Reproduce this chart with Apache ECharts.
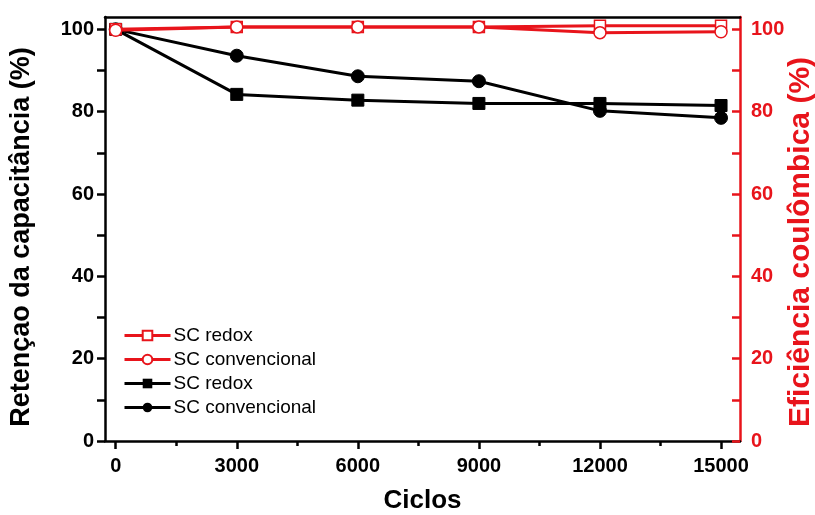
<!DOCTYPE html>
<html>
<head>
<meta charset="utf-8">
<script src="https://cdn.jsdelivr.net/npm/echarts@6/dist/echarts.min.js"></script>
<style>
  html, body { margin: 0; padding: 0; background: #fff; }
  #chart { width: 815px; height: 515px; }
</style>
</head>
<body>
<div id="chart"></div>
<script>
// Cycling stability: capacitance retention (left) and coulombic efficiency (right)
const cycles = [0, 3000, 6000, 9000, 12000, 15000];
const retRedox = [100, 84.2, 82.8, 82.0, 82.0, 81.5];
const retConv = [100, 93.6, 88.6, 87.4, 80.2, 78.5];
const effRedox = [100, 100.6, 100.6, 100.6, 100.9, 100.9];
const effConv = [99.8, 100.6, 100.6, 100.6, 99.2, 99.4];

const xMajor = [0, 3000, 6000, 9000, 12000, 15000];
const xMinor = [1500, 4500, 7500, 10500, 13500];
const yTicks = [0, 10, 20, 30, 40, 50, 60, 70, 80, 90, 100];
const yLabels = [0, 20, 40, 60, 80, 100];

const RED = '#e8141b';
const BLACK = '#000000';
const FONT = '"Liberation Sans", Arial, sans-serif';

const pairs = (xs, ys) => xs.map((x, i) => [x, ys[i]]);
const plain = v => String(v);

const chart = echarts.init(document.getElementById('chart'));
chart.setOption({
  animation: false,
  backgroundColor: '#fff',
  grid: { left: 105, right: 75, top: 17, bottom: 74, outerBoundsMode: 'none', containLabel: false },
  legend: {
    left: 118, top: 321, orient: 'vertical',
    itemWidth: 46, itemHeight: 12, itemGap: 5,
    lineStyle: { width: 3 },
    textStyle: { fontFamily: FONT, fontSize: 19, color: '#000', padding: [0, 0, 0, -2] },
    data: ['SC redox ', 'SC convencional ', 'SC redox', 'SC convencional']
  },
  xAxis: [
    {
      type: 'value', min: -265, max: 15470, position: 'bottom',
      name: 'Ciclos', nameLocation: 'middle', nameGap: 47,
      nameTextStyle: { fontFamily: FONT, fontSize: 26, fontWeight: 'bold', color: '#000' },
      splitLine: { show: false },
      axisLine: { onZero: false, lineStyle: { color: BLACK, width: 2.5 } },
      axisTick: { customValues: xMajor, length: 8, lineStyle: { color: BLACK, width: 2.5 } },
      axisLabel: { customValues: xMajor, formatter: plain, margin: 15, fontFamily: FONT, fontSize: 20, fontWeight: 'bold', color: '#000' }
    },
    {
      type: 'value', min: -265, max: 15470, position: 'bottom',
      splitLine: { show: false },
      axisLine: { show: false, onZero: false },
      axisTick: { customValues: xMinor, length: 5, lineStyle: { color: BLACK, width: 2.5 } },
      axisLabel: { show: false }
    },
    {
      type: 'value', min: -265, max: 15470, position: 'top',
      splitLine: { show: false },
      axisLine: { onZero: false, lineStyle: { color: BLACK, width: 2.5 } },
      axisTick: { show: false },
      axisLabel: { show: false }
    }
  ],
  yAxis: [
    {
      type: 'value', min: 0, max: 103, position: 'left',
      name: 'Retençao da capacitância (%)', nameLocation: 'middle', nameGap: 70, nameRotate: 90,
      nameMoveOverlap: false,
      nameTextStyle: { fontFamily: FONT, fontSize: 27, fontWeight: 'bold', color: '#000', padding: [0, 16, 0, 0] },
      splitLine: { show: false },
      axisLine: { onZero: false, lineStyle: { color: BLACK, width: 2.5 } },
      axisTick: { customValues: yTicks, length: 8, lineStyle: { color: BLACK, width: 2.5 } },
      axisLabel: { customValues: yLabels, formatter: plain, margin: 11, fontFamily: FONT, fontSize: 20, fontWeight: 'bold', color: '#000' }
    },
    {
      type: 'value', min: 0, max: 103, position: 'right',
      name: 'Eficiência coulômbica (%)', nameLocation: 'middle', nameGap: 46, nameRotate: 90,
      nameMoveOverlap: false,
      nameTextStyle: { fontFamily: FONT, fontSize: 30, fontWeight: 'bold', color: RED, padding: [0, 26, 0, 0] },
      splitLine: { show: false },
      axisLine: { onZero: false, lineStyle: { color: RED, width: 2.5 } },
      axisTick: { customValues: yTicks, length: 8, inside: true, lineStyle: { color: RED, width: 2.5 } },
      axisLabel: { customValues: yLabels, formatter: plain, margin: 11, fontFamily: FONT, fontSize: 20, fontWeight: 'bold', color: RED }
    }
  ],
  series: [
    {
      name: 'SC redox', type: 'line', yAxisIndex: 0, z: 2,
      data: pairs(cycles, retRedox),
      symbol: 'rect', symbolSize: 12,
      lineStyle: { color: BLACK, width: 3 },
      itemStyle: { color: BLACK, borderColor: BLACK }
    },
    {
      name: 'SC convencional', type: 'line', yAxisIndex: 0, z: 2,
      data: pairs(cycles, retConv),
      symbol: 'circle', symbolSize: 13,
      lineStyle: { color: BLACK, width: 3 },
      itemStyle: { color: BLACK, borderColor: BLACK }
    },
    {
      name: 'SC redox ', type: 'line', yAxisIndex: 1, z: 3,
      data: pairs(cycles, effRedox),
      symbol: 'rect', symbolSize: 11,
      lineStyle: { color: RED, width: 3 },
      itemStyle: { color: '#fff', borderColor: RED, borderWidth: 1.5 }
    },
    {
      name: 'SC convencional ', type: 'line', yAxisIndex: 1, z: 4,
      data: pairs(cycles, effConv),
      symbol: 'circle', symbolSize: 12,
      lineStyle: { color: RED, width: 3 },
      itemStyle: { color: '#fff', borderColor: RED, borderWidth: 1.5 }
    }
  ]
});
</script>
</body>
</html>
